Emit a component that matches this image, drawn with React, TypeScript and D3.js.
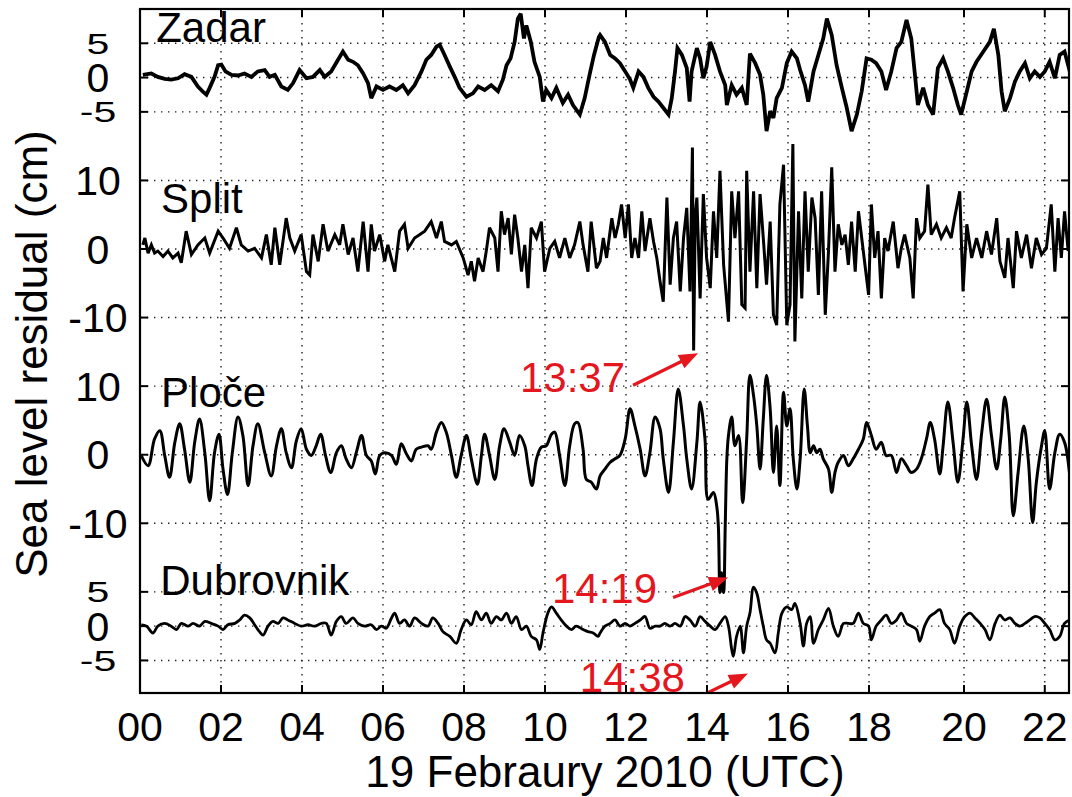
import React from "react";
import * as d3 from "d3";

// ---------- DATA (hour of 19 Feb 2010 UTC, sea level residual in cm) ----------
const stations = ["Zadar", "Split", "Ploče", "Dubrovnik"];
const stationOffsets = [80, 55, 25, 0];
const stationTicks = [[-5, 0, 5], [-10, 0, 10], [-10, 0, 10], [-5, 0, 5]];
const xTicks = [0, 2, 4, 6, 8, 10, 12, 14, 16, 18, 20, 22];

const zadar: [number, number][] = [
  [0.07,0.4],[0.28,0.6],[0.44,0.1],[0.61,-0.2],[0.77,-0.3],[0.94,-0.1],[1.10,0.5],[1.27,0.1],[1.43,-1.3],[1.56,-2.1],[1.64,-2.5],[1.72,-1.5],[1.84,0.1],[1.93,1.8],[2.01,1.9],[2.11,0.9],[2.26,0.4],[2.42,0.3],[2.58,0.6],[2.75,0.1],[2.91,0.9],[3.08,1.1],[3.20,0.1],[3.33,0.4],[3.49,-1.3],[3.65,-1.8],[3.78,-0.8],[3.94,1.1],[4.11,-0.1],[4.27,0.1],[4.44,1.1],[4.56,0.1],[4.72,0.9],[4.89,2.6],[5.01,3.8],[5.14,2.6],[5.26,2.3],[5.38,1.8],[5.51,0.6],[5.63,-0.8],[5.71,-3.0],[5.84,-1.3],[6.00,-1.8],[6.16,-1.3],[6.33,-1.8],[6.49,-1.1],[6.62,-2.3],[6.78,-1.1],[6.95,0.9],[7.07,2.6],[7.19,3.3],[7.32,4.5],[7.40,4.8],[7.52,3.3],[7.65,1.6],[7.77,0.1],[7.89,-1.5],[8.06,-2.8],[8.22,-2.3],[8.35,-1.3],[8.51,-1.8],[8.67,-1.1],[8.84,-2.0],[8.96,-0.3],[9.05,1.8],[9.15,2.8],[9.25,5.2],[9.33,8.6],[9.40,9.3],[9.48,5.7],[9.54,7.6],[9.65,5.2],[9.74,2.3],[9.87,0.1],[9.95,-3.5],[10.03,-1.8],[10.16,-3.0],[10.28,-1.5],[10.44,-3.7],[10.57,-2.5],[10.69,-4.0],[10.86,-5.4],[10.98,-3.0],[11.10,0.4],[11.21,3.3],[11.33,5.9],
  [11.36,6.2],[11.48,5.2],[11.61,3.3],[11.73,2.8],[11.85,2.1],[11.98,0.9],[12.10,-0.3],[12.18,-1.5],[12.31,0.9],[12.43,0.1],[12.55,-1.5],[12.68,-2.8],[12.80,-3.5],[12.92,-4.4],[13.05,-5.4],[13.13,-3.0],[13.21,0.9],[13.27,4.3],[13.38,3.3],[13.50,1.4],[13.57,-3.5],[13.62,0.9],[13.75,4.3],[13.83,2.8],[13.91,-0.1],[13.99,1.6],[14.08,5.2],[14.20,3.3],[14.32,0.9],[14.45,-1.1],[14.49,-4.0],[14.61,-1.1],[14.73,-2.5],[14.86,-1.5],[14.98,-4.0],[15.06,3.5],[15.19,2.1],[15.31,0.4],[15.39,-2.5],[15.47,-7.8],[15.56,-4.9],[15.64,-5.9],[15.72,-3.0],[15.85,-1.5],[15.97,2.1],[16.09,3.8],[16.22,2.8],[16.30,1.1],[16.42,-1.1],[16.50,-3.5],[16.63,0.9],[16.75,3.3],[16.87,5.7],[16.96,8.6],[17.08,6.2],[17.20,1.8],[17.33,-1.5],[17.45,-4.4],[17.57,-7.8],[17.70,-5.4],[17.82,-2.0],[17.94,2.8],[18.05,2.6],[18.15,2.1],[18.26,0.9],[18.36,-1.8],[18.47,0.9],[18.58,4.3],[18.68,5.2],[18.79,8.4],[18.89,5.7],[18.96,0.9],[19.03,-4.0],[19.14,-1.5],[19.24,-4.0],[19.35,-5.4],[19.45,1.4],[19.56,2.8],[19.66,0.9],[19.77,-1.5],[19.87,-4.0],[19.94,-5.4],[20.07,-2.0],[20.19,0.9],[20.31,2.3],[20.48,3.8],[20.64,5.2],[20.74,7.1],[20.85,3.3],[20.93,-2.0],[21.01,-4.9],[21.14,-3.0],[21.26,-0.6],[21.38,0.9],[21.51,2.1],[21.63,-0.1],[21.75,0.9],[21.88,0.1],[22.00,0.9],[22.12,2.3],[22.25,-0.1],[22.37,3.3],[22.49,3.8],[22.62,0.9]
];

const split: [number, number][] = [
  [0.07,0.6],[0.12,1.6],[0.20,-0.6],[0.28,0.6],[0.36,-0.6],[0.44,-0.3],[0.57,-1.1],[0.69,-0.3],[0.81,-1.3],[0.94,-0.6],[1.02,-2.0],[1.14,2.6],[1.27,-0.8],[1.43,0.6],[1.60,1.6],[1.72,-0.6],[1.93,2.6],[2.05,1.6],[2.21,0.1],[2.38,3.1],[2.50,0.6],[2.67,-0.3],[2.83,0.1],[3.00,-1.3],[3.12,2.1],[3.24,-2.3],[3.33,3.1],[3.45,-2.3],[3.61,4.5],[3.70,1.6],[3.82,-0.3],[3.98,2.1],[4.11,-3.3],[4.19,-3.8],[4.27,2.1],[4.40,-1.8],[4.52,3.6],[4.64,-0.3],[4.81,2.1],[4.93,0.6],[5.01,3.6],[5.14,-0.8],[5.26,1.6],[5.38,-3.3],[5.51,4.0],[5.63,-3.3],[5.71,3.6],[5.79,-0.3],[5.92,2.1],[6.04,-1.8],[6.12,0.6],[6.29,-3.3],[6.41,2.6],[6.53,3.6],[6.62,0.1],[6.78,1.6],[6.91,2.1],[7.03,2.6],[7.19,4.0],[7.32,1.6],[7.44,4.0],[7.52,1.1],[7.69,0.6],[7.81,1.1],[7.98,-1.3],[8.10,-3.8],[8.18,-1.8],[8.26,-4.7],[8.35,-1.3],[8.47,-3.3],[8.55,-0.3],[8.63,3.1],[8.76,1.6],[8.84,-3.3],[8.92,5.5],[9.00,2.1],[9.09,4.5],[9.17,-0.8],[9.25,5.0],[9.33,1.6],[9.42,-3.3],[9.50,0.6],[9.58,-5.7],[9.66,3.1],[9.79,1.6],[9.91,4.0],[9.99,-3.3],[10.12,0.1],[10.24,1.1],[10.36,-1.3],[10.49,1.6],[10.61,-1.3],[10.73,0.6],[10.86,4.0],[10.94,0.6],[11.06,-3.3],[11.14,4.0],[11.27,-2.8],
  [11.36,-1.8],[11.44,1.6],[11.52,-1.3],[11.65,4.5],[11.73,1.6],[11.81,3.6],[11.89,6.5],[11.98,1.6],[12.06,6.5],[12.14,-1.3],[12.22,1.6],[12.31,-1.3],[12.39,5.5],[12.47,-0.3],[12.59,4.5],[12.68,1.1],[12.76,-1.3],[12.84,-4.7],[12.92,-7.7],[13.01,7.5],[13.09,-5.2],[13.17,1.6],[13.25,4.0],[13.34,-6.2],[13.42,1.6],[13.50,6.0],[13.58,-6.2],[13.64,14.8],[13.67,-14.8],[13.71,5.0],[13.75,7.5],[13.83,-7.2],[13.91,8.0],[13.99,-1.3],[14.08,-5.7],[14.16,5.5],[14.24,-1.3],[14.32,11.4],[14.41,-2.3],[14.53,-10.6],[14.61,8.4],[14.69,1.6],[14.78,8.4],[14.86,-8.1],[14.94,-8.6],[14.98,11.4],[15.06,-3.3],[15.15,8.4],[15.23,-5.7],[15.31,8.0],[15.39,1.6],[15.47,-5.2],[15.56,4.0],[15.64,-9.6],[15.72,-11.1],[15.80,6.5],[15.89,12.3],[15.97,-11.1],[16.05,-8.1],[16.12,15.3],[16.17,-13.5],[16.26,5.5],[16.34,-7.2],[16.42,8.4],[16.50,-3.3],[16.59,7.5],[16.67,4.5],[16.75,-6.7],[16.83,8.4],[16.92,-9.6],[17.00,-0.3],[17.08,11.9],[17.16,-3.3],[17.24,3.6],[17.33,0.6],[17.41,2.1],[17.49,-2.3],[17.57,4.0],[17.66,-3.3],[17.74,5.5],[17.82,1.6],[17.90,-2.3],[17.99,-6.7],[18.05,6.5],[18.12,-1.3],[18.19,2.6],[18.26,-7.2],[18.33,1.6],[18.40,-0.3],[18.51,4.0],[18.61,-2.8],[18.68,0.1],[18.75,2.1],[18.86,-1.3],[18.93,-7.2],[19.00,4.5],[19.07,1.6],[19.17,2.6],[19.24,9.4],[19.31,2.1],[19.42,3.6],[19.52,1.6],[19.63,3.1],[19.73,1.6],[19.80,4.5],[19.91,8.4],[19.98,-6.2],[20.07,3.6],[20.19,-1.3],[20.31,1.6],[20.44,-1.3],[20.56,2.6],[20.68,-0.8],[20.81,4.5],[20.89,-1.8],[21.01,-4.2],[21.09,1.6],[21.22,-5.7],[21.30,2.6],[21.42,-1.3],[21.55,2.1],[21.67,-2.8],[21.79,1.6],[21.92,-0.8],[22.04,0.1],[22.16,6.5],[22.25,-3.3],[22.33,4.5],[22.41,-1.3],[22.49,5.5],[22.58,-0.3]
];

const ploce: [number, number][] = [
  [0.03,-0.1],[0.20,-1.6],[0.36,2.3],[0.49,3.5],[0.61,-0.1],[0.73,-3.3],[0.86,1.8],[0.98,4.5],[1.10,0.8],[1.23,-4.0],[1.35,1.8],[1.47,5.2],[1.60,0.3],[1.72,-6.7],[1.84,0.3],[1.95,3.0],[2.05,-2.1],[2.16,-5.8],[2.28,0.3],[2.42,5.5],[2.54,2.8],[2.67,-4.5],[2.79,1.3],[2.91,4.5],[3.08,0.3],[3.24,-3.1],[3.37,1.3],[3.49,3.8],[3.61,0.3],[3.74,-1.9],[3.86,2.0],[3.98,3.8],[4.11,0.8],[4.23,-0.1],[4.35,1.3],[4.46,3.0],[4.58,-0.1],[4.71,-2.6],[4.85,0.3],[4.97,1.3],[5.09,-0.6],[5.22,-1.9],[5.34,0.3],[5.47,2.8],[5.59,-0.1],[5.71,-0.9],[5.81,-2.8],[5.92,-0.1],[6.04,0.3],[6.21,-0.1],[6.33,-1.4],[6.45,1.6],[6.58,0.1],[6.70,-0.9],[6.82,0.8],[6.95,1.1],[7.11,1.3],[7.19,0.8],[7.32,3.3],[7.44,4.7],[7.56,3.3],[7.69,-0.1],[7.81,-3.3],[7.93,-0.1],[8.06,2.8],[8.18,-0.6],[8.33,-4.3],[8.43,-0.1],[8.51,3.0],[8.63,-0.1],[8.76,-3.6],[8.88,1.3],[8.99,3.8],[9.13,1.8],[9.25,-0.1],[9.37,2.8],[9.50,1.3],[9.58,-1.6],[9.68,-4.5],[9.79,-0.6],[9.91,1.1],[10.03,1.3],[10.16,3.0],[10.24,3.3],[10.36,-0.1],[10.49,-4.5],[10.61,1.3],[10.73,4.5],[10.81,4.7],[10.94,0.8],[11.02,-3.6],[11.14,-4.0],[11.27,-5.0],
  [11.36,-3.1],[11.48,-2.1],[11.61,-1.1],[11.73,-0.6],[11.85,-0.1],[11.98,2.3],[12.10,6.7],[12.22,4.2],[12.35,0.8],[12.47,-3.1],[12.59,0.3],[12.72,5.5],[12.84,3.8],[12.92,-0.6],[13.05,-5.5],[13.17,1.8],[13.29,9.6],[13.42,4.2],[13.50,-0.6],[13.62,-5.0],[13.75,1.8],[13.83,7.7],[13.95,2.3],[14.03,-6.5],[14.16,-5.5],[14.24,-7.5],[14.28,-10.4],[14.32,-20.1],[14.36,-17.2],[14.41,-20.1],[14.45,-10.4],[14.49,-0.6],[14.53,2.8],[14.61,5.5],[14.69,1.3],[14.78,2.8],[14.88,-7.0],[14.98,2.3],[15.06,11.6],[15.15,8.6],[15.23,4.2],[15.31,-2.1],[15.39,5.2],[15.47,11.6],[15.56,6.7],[15.64,-2.6],[15.72,4.2],[15.80,-4.5],[15.89,9.1],[15.97,4.2],[16.05,6.7],[16.13,-0.6],[16.22,-5.0],[16.30,-0.6],[16.40,9.6],[16.48,4.2],[16.55,0.3],[16.63,1.3],[16.71,0.3],[16.79,0.8],[16.87,-0.6],[17.00,-2.1],[17.08,-5.5],[17.16,-2.6],[17.24,-1.1],[17.37,-0.1],[17.49,-1.6],[17.61,-0.6],[17.74,0.8],[17.86,2.3],[17.94,4.7],[18.05,2.8],[18.15,0.8],[18.26,1.8],[18.36,-0.1],[18.47,-0.1],[18.58,-2.6],[18.68,-0.6],[18.79,-1.6],[18.89,-2.6],[19.00,-2.1],[19.10,-0.6],[19.21,2.3],[19.29,4.7],[19.38,2.3],[19.49,-2.8],[19.56,1.3],[19.66,7.7],[19.77,1.8],[19.87,-4.0],[19.98,2.3],[20.07,7.7],[20.19,1.3],[20.31,-3.6],[20.44,3.3],[20.56,8.1],[20.68,2.8],[20.81,-2.1],[20.91,2.3],[21.01,8.4],[21.12,2.8],[21.22,-8.9],[21.34,-2.6],[21.48,4.2],[21.59,-0.6],[21.70,-9.9],[21.79,-4.1],[21.92,1.3],[22.00,3.5],[22.12,-5.0],[22.25,0.3],[22.37,3.0],[22.49,1.8],[22.62,-3.1]
];

const dubrovnik: [number, number][] = [
  [0.03,0.2],[0.16,0],[0.32,-1.0],[0.44,0],[0.61,0.4],[0.77,0],[0.90,-0.5],[1.02,0.4],[1.19,0],[1.31,0.4],[1.47,0],[1.60,0.7],[1.76,0.4],[1.93,0],[2.05,-0.5],[2.17,0.2],[2.34,0.4],[2.46,0.9],[2.58,1.6],[2.71,1.2],[2.83,0.2],[2.95,-0.8],[3.04,-1.3],[3.16,0],[3.28,0.7],[3.41,0.4],[3.53,1.2],[3.65,0.9],[3.82,0.4],[3.98,0],[4.15,0.2],[4.31,0],[4.48,0.4],[4.60,0.4],[4.72,-1.3],[4.85,0.7],[4.97,1.4],[5.09,0.4],[5.26,1.2],[5.38,0.4],[5.55,0],[5.71,0.2],[5.84,-0.5],[5.96,0],[6.08,-0.3],[6.21,1.2],[6.29,1.9],[6.41,0.4],[6.53,0.9],[6.66,0],[6.78,1.2],[6.95,0.4],[7.11,0],[7.23,1.2],[7.36,0.4],[7.48,-0.8],[7.65,-1.5],[7.81,-2.5],[7.93,-0.5],[8.06,0.9],[8.18,0.2],[8.30,2.1],[8.43,0.9],[8.55,1.9],[8.67,0.4],[8.80,1.4],[8.92,0.9],[9.05,1.9],[9.17,0.4],[9.29,1.4],[9.42,-0.5],[9.54,0],[9.66,-1.5],[9.79,-2.0],[9.87,-3.4],[9.95,-1.0],[10.07,1.9],[10.16,2.8],[10.28,1.9],[10.40,0.9],[10.53,0],[10.65,-0.5],[10.77,0],[10.94,-0.5],[11.06,-0.8],[11.19,-1.0],[11.31,-1.5],
  [11.36,-1.0],[11.48,0],[11.61,0.4],[11.73,0.9],[11.85,0],[11.98,0.4],[12.10,0],[12.22,0.4],[12.35,0.9],[12.47,1.4],[12.59,-0.3],[12.72,0],[12.84,0],[12.96,0.4],[13.09,0],[13.21,0.4],[13.34,0],[13.46,1.4],[13.58,0.9],[13.71,0],[13.83,1.4],[13.95,0.7],[14.08,0],[14.20,-0.5],[14.32,0.4],[14.45,1.4],[14.53,0],[14.61,-3.4],[14.65,-4.4],[14.73,-1.5],[14.82,0],[14.90,-3.9],[14.98,0],[15.06,1.9],[15.15,5.7],[15.23,4.8],[15.31,2.4],[15.39,0],[15.47,-2.0],[15.56,-2.5],[15.68,-3.9],[15.76,-1.0],[15.85,1.9],[15.97,2.8],[16.09,2.4],[16.17,3.3],[16.30,0.4],[16.38,-2.9],[16.46,0.4],[16.55,1.4],[16.63,-2.5],[16.75,-0.5],[16.87,0.9],[17.00,2.6],[17.12,0],[17.24,-1.5],[17.37,0.4],[17.49,0.4],[17.61,0.4],[17.74,1.9],[17.86,0.4],[17.99,0],[18.05,-2.0],[18.15,0],[18.26,0.9],[18.36,1.6],[18.47,0.4],[18.58,0.9],[18.68,1.9],[18.79,0.4],[18.89,0],[19.00,-0.5],[19.07,-2.2],[19.17,0],[19.28,1.4],[19.38,1.9],[19.49,2.4],[19.59,0.4],[19.70,-0.5],[19.80,-2.5],[19.91,0],[20.02,1.4],[20.15,1.9],[20.27,1.2],[20.40,0.4],[20.52,-0.5],[20.64,-2.0],[20.77,0.4],[20.89,1.6],[21.01,0.9],[21.14,1.2],[21.26,0.4],[21.38,0],[21.51,0.4],[21.63,0.9],[21.75,1.4],[21.88,1.2],[22.00,0.4],[22.12,-0.5],[22.25,-2.0],[22.37,-1.5],[22.49,0.4],[22.62,0.9]
];

const series = [zadar, split, ploce, dubrovnik];

// annotations: label, station index, time (h) and level (cm) of the arrow tip
const annoLabels = ["13:37", "14:19", "14:38"];
const annoStation = [1, 2, 3];
const annoHour = [13.78, 14.52, 15.01];
const annoLevel = [-15.2, -17.9, -6.9];

// ---------- CHART ----------
const W = 1072, H = 797;
const L = 140, R = 1069, T = 9, B = 693;
const FONT = "'Liberation Sans', Arial, Helvetica, sans-serif";
const RED = "#e4171e";

export default function App() {
  const x = d3.scaleLinear().domain([0, 18, 20, 22.6]).range([L, 869, 964, R]);
  const y = d3.scaleLinear().domain([-9.75, 90]).range([B, T]);
  const fmt = d3.format("02d");

  const yTickList: { v: number; label: number; st: number }[] = [];
  stationTicks.forEach((ts, i) => ts.forEach((t) => yTickList.push({ v: stationOffsets[i] + t, label: t, st: i })));

  const labelX = [0.4, 0.52, 0.52, 0.5];
  const labelLevel = [5.2, 5.3, 6.9, 4.6];
  const curves = [d3.curveLinear, d3.curveLinear, d3.curveCatmullRom.alpha(0.5), d3.curveCatmullRom.alpha(0.5)];
  const widths = [3.8, 3.0, 3.0, 2.8];

  const lineFor = (i: number) =>
    d3.line<[number, number]>()
      .curve(curves[i])
      .x((d) => x(d[0]))
      .y((d) => y(d[1] + stationOffsets[i]))(series[i]) || "";

  return (
    <svg width={W} height={H} style={{ position: "absolute", left: 0, top: 0, background: "#fff" }} fontFamily={FONT}>
      <defs>
        <clipPath id="plot"><rect x={L} y={T} width={R - L} height={B - T} /></clipPath>
      </defs>
      <rect x={0} y={0} width={W} height={H} fill="#fff" />
      {/* grid */}
      <g stroke="#222" strokeWidth={1.4} strokeDasharray="1.4 5.6">
        {xTicks.filter((t) => t > 0).map((t) => (
          <line key={"gx" + t} x1={x(t)} x2={x(t)} y1={T} y2={B} />
        ))}
        {yTickList.map((t, k) => (
          <line key={"gy" + k} x1={L} x2={R} y1={y(t.v)} y2={y(t.v)} />
        ))}
      </g>
      {/* series */}
      <g clipPath="url(#plot)" fill="none" stroke="#000" strokeLinejoin="miter" strokeMiterlimit={3}>
        {series.map((_, i) => <path key={stations[i]} d={lineFor(i)} strokeWidth={widths[i]} />)}
      </g>
      {/* annotations */}
      <g clipPath="url(#plot)" fill={RED}>
        {annoLabels.map((lab, i) => {
          const tx = x(annoHour[i]);
          const ty = y(annoLevel[i] + stationOffsets[annoStation[i]]);
          const dx = [-65, -55, -50][i], dy = [32, 20, 24][i];
          const sx = tx + dx, sy = ty + dy;
          const len = Math.hypot(dx, dy);
          const ux = -dx / len, uy = -dy / len;
          const hl = 19, hw = 7.5;
          const bx = tx - ux * hl, by = ty - uy * hl;
          const pts = `${tx},${ty} ${bx - uy * hw},${by + ux * hw} ${bx + uy * hw},${by - ux * hw}`;
          const textDx = [-73, -71, -63][i], textDy = [39, 26, 19][i];
          return (
            <g key={lab}>
              <line x1={sx} y1={sy} x2={bx + ux * 2} y2={by + uy * 2} stroke={RED} strokeWidth={3.2} />
              <polygon points={pts} />
              <text x={tx + textDx} y={ty + textDy} textAnchor="end" fontSize={42}>{lab}</text>
            </g>
          );
        })}
      </g>
      {/* frame */}
      <rect x={L} y={T} width={R - L} height={B - T} fill="none" stroke="#000" strokeWidth={2.2} />
      {/* ticks */}
      <g stroke="#000" strokeWidth={2}>
        {xTicks.map((t) => (
          <g key={"tx" + t}>
            <line x1={x(t)} x2={x(t)} y1={B} y2={B - 8} />
            <line x1={x(t)} x2={x(t)} y1={T} y2={T + 8} />
          </g>
        ))}
        {yTickList.map((t, k) => (
          <g key={"ty" + k}>
            <line x1={L} x2={L + 8} y1={y(t.v)} y2={y(t.v)} />
            <line x1={R} x2={R - 8} y1={y(t.v)} y2={y(t.v)} />
          </g>
        ))}
      </g>
      {/* tick labels */}
      <g fontSize={41} fill="#000" textAnchor="middle">
        {xTicks.map((t) => (
          <text key={"lx" + t} x={x(t)} y={741}>{fmt(t)}</text>
        ))}
        {yTickList.map((t, k) => {
          const squash = (t.st === 0 || t.st === 3) && t.label !== 0;
          const cy = y(t.v);
          const txt = t.label < 0 ? "-" + Math.abs(t.label) : String(t.label);
          return (
            <text key={"ly" + k} x={98} y={0} dy="0.36em"
              transform={`translate(0,${cy}) scale(1,${squash ? 0.72 : 1})`}>{txt}</text>
          );
        })}
      </g>
      {/* station names */}
      <g fontSize={42} fill="#000">
        {stations.map((s, i) => (
          <text key={"sn" + s} x={x(labelX[i])} y={y(stationOffsets[i] + labelLevel[i])}>{s}</text>
        ))}
      </g>
      {/* axis titles */}
      <text x={605} y={787} fontSize={44} textAnchor="middle">19 Febraury 2010 (UTC)</text>
      <text transform={`translate(47,${(T + B) / 2 + 3}) rotate(-90)`} fontSize={44} textAnchor="middle">Sea level residual (cm)</text>
    </svg>
  );
}
